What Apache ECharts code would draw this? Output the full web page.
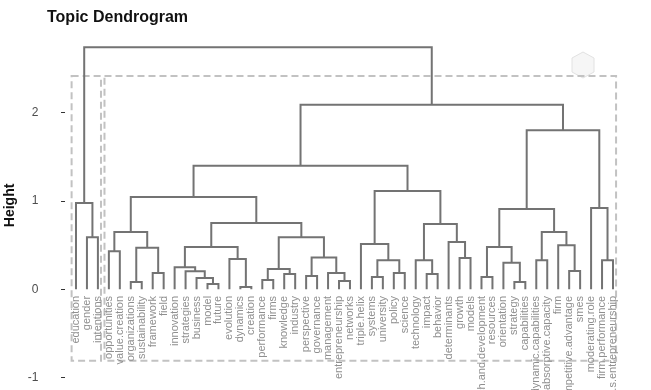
<!DOCTYPE html>
<html>
<head>
<meta charset="utf-8">
<script src="https://cdn.jsdelivr.net/npm/echarts@6/dist/echarts.min.js"></script>
<style>html,body{margin:0;padding:0;background:#fff;}#c{width:651px;height:390px;}</style>
</head>
<body>
<div id="c"></div>
<script>
// Leaf labels in dendrogram order (left to right)
const leafLabels = ["education","gender","intentions","opportunities","value.creation","organizations","sustainability","framework","field","innovation","strategies","business","model","future","evolution","dynamics","creation","performance","firms","knowledge","industry","perspective","governance","management","entrepreneurship","networks","triple.helix","systems","university","policy","science","technology","impact","behavior","determinants","growth","models","research.and.development","resources","orientation","strategy","capabilities","dynamic.capabilities","absorptive.capacity","firm","competitive.advantage","smes","moderating.role","firm.performance","women.s.entrepreneurship"];

// hclust-style merges: negative = leaf (1-based order), positive = earlier merge (1-based)
const mergeLeft  = [-13,-16,-6,-41,-25,-18,-12,-38,-22,-28,-20,-33,-8,-30,-24,-11,-46,-10,6,-40,-15,10,-32,-43,-49,9,-36,-4,3,18,8,-45,-27,-35,19,-2,28,24,23,30,31,-48,-1,37,33,44,41,46,43];
const mergeRight = [-14,-17,-7,-42,-26,-19,1,-39,-23,-29,-21,-34,-9,-31,5,7,-47,16,11,4,2,14,12,-44,-50,15,-37,-5,13,21,20,17,22,27,26,-3,29,32,34,35,38,25,36,40,39,45,42,47,48];
const mergeHeight = [0.06,0.026,0.083,0.083,0.094,0.105,0.128,0.14,0.15,0.14,0.173,0.173,0.185,0.185,0.185,0.205,0.207,0.25,0.23,0.30,0.343,0.33,0.33,0.33,0.33,0.36,0.354,0.43,0.47,0.48,0.48,0.50,0.513,0.536,0.59,0.59,0.65,0.65,0.74,0.75,0.91,0.92,0.977,1.045,1.113,1.40,1.80,2.09,2.74];

// k = 2 cluster rectangles (first/last leaf of each cluster)
const clusterFirst = [1, 4];
const clusterLast  = [3, 50];

const yTicks = [-1, 0, 1, 2];

// ---- derived geometry in data units ----
const nodeX = [], nodeH = [];
function pos(ref){ return ref < 0 ? [-ref, 0] : [nodeX[ref-1], nodeH[ref-1]]; }
const segments = [];
for (let i = 0; i < mergeLeft.length; i++) {
  const a = pos(mergeLeft[i]), b = pos(mergeRight[i]);
  nodeX.push((a[0] + b[0]) / 2);
  nodeH.push(mergeHeight[i]);
  segments.push([a[0], a[1], b[0], b[1], mergeHeight[i]]);
}
const sortedH = mergeHeight.slice().sort((p,q)=>q-p);
const rectTop = (sortedH[0] + sortedH[1]) / 2;
const rectBottom = -0.81;
const rects = clusterFirst.map((f, i) => [f - 0.4, rectTop, clusterLast[i] + 0.28, rectBottom]);
const labelData = leafLabels.map((l, i) => [i + 1, -0.075, l]);

const chart = echarts.init(document.getElementById('c'));
chart.setOption({
  animation: false,
  backgroundColor: '#ffffff',
  title: {
    text: 'Topic Dendrogram', left: 42, top: 5,
    textStyle: { fontFamily: 'Liberation Sans', fontSize: 16, fontWeight: 'bold', color: '#111' }
  },
  grid: { left: 45.3, right: 10.6, top: 24.4, bottom: 3.6, outerBoundsMode: 'none', containLabel: false },
  xAxis: { type: 'value', min: -1.8, max: 52.5, show: false },
  yAxis: {
    type: 'value', min: -1.1, max: 3.0,
    name: 'Height', nameLocation: 'middle', nameGap: 24,
    nameTextStyle: { fontFamily: 'Liberation Sans', fontSize: 14, fontWeight: 'bold', color: '#111' },
    axisLine: { show: false },
    splitLine: { show: false },
    axisTick: { show: true, length: 4, customValues: yTicks, lineStyle: { color: '#333', width: 1 } },
    axisLabel: { customValues: yTicks, margin: 7, fontFamily: 'Liberation Sans', fontSize: 12, color: '#4d4d4d' }
  },
  graphic: [{
    type: 'polygon', silent: true,
    shape: { points: [[583,52],[594,58],[594,72],[583,78],[572,72],[572,58]] },
    style: { fill: '#f6f6f6', stroke: '#e2e2e2', lineWidth: 1 }
  }],
  series: [
    {
      type: 'custom', name: 'rects', silent: true, clip: false,
      data: rects,
      renderItem: function (params, api) {
        const p1 = api.coord([api.value(0), api.value(1)]);
        const p2 = api.coord([api.value(2), api.value(3)]);
        return { type: 'rect', shape: { x: p1[0], y: p1[1], width: p2[0]-p1[0], height: p2[1]-p1[1] },
          style: { fill: null, stroke: '#c2c2c2', lineWidth: 2, lineDash: [7, 4] } };
      }
    },
    {
      type: 'custom', name: 'dendrogram', silent: true, clip: false,
      data: segments,
      renderItem: function (params, api) {
        const xl = api.value(0), hl = api.value(1), xr = api.value(2), hr = api.value(3), h = api.value(4);
        return { type: 'polyline', shape: { points: [api.coord([xl, hl]), api.coord([xl, h]), api.coord([xr, h]), api.coord([xr, hr])] },
          style: { fill: null, stroke: '#737373', lineWidth: 2 } };
      }
    },
    {
      type: 'custom', name: 'labels', silent: true, clip: false,
      data: labelData,
      renderItem: function (params, api) {
        const p = api.coord([api.value(0), api.value(1)]);
        return { type: 'text', x: p[0], y: p[1], rotation: Math.PI / 2,
          style: { text: leafLabels[params.dataIndex], align: 'right', verticalAlign: 'middle',
            fontFamily: 'Liberation Sans', fontSize: 11, fill: '#8f8f8f' } };
      }
    }
  ]
});
</script>
</body>
</html>
